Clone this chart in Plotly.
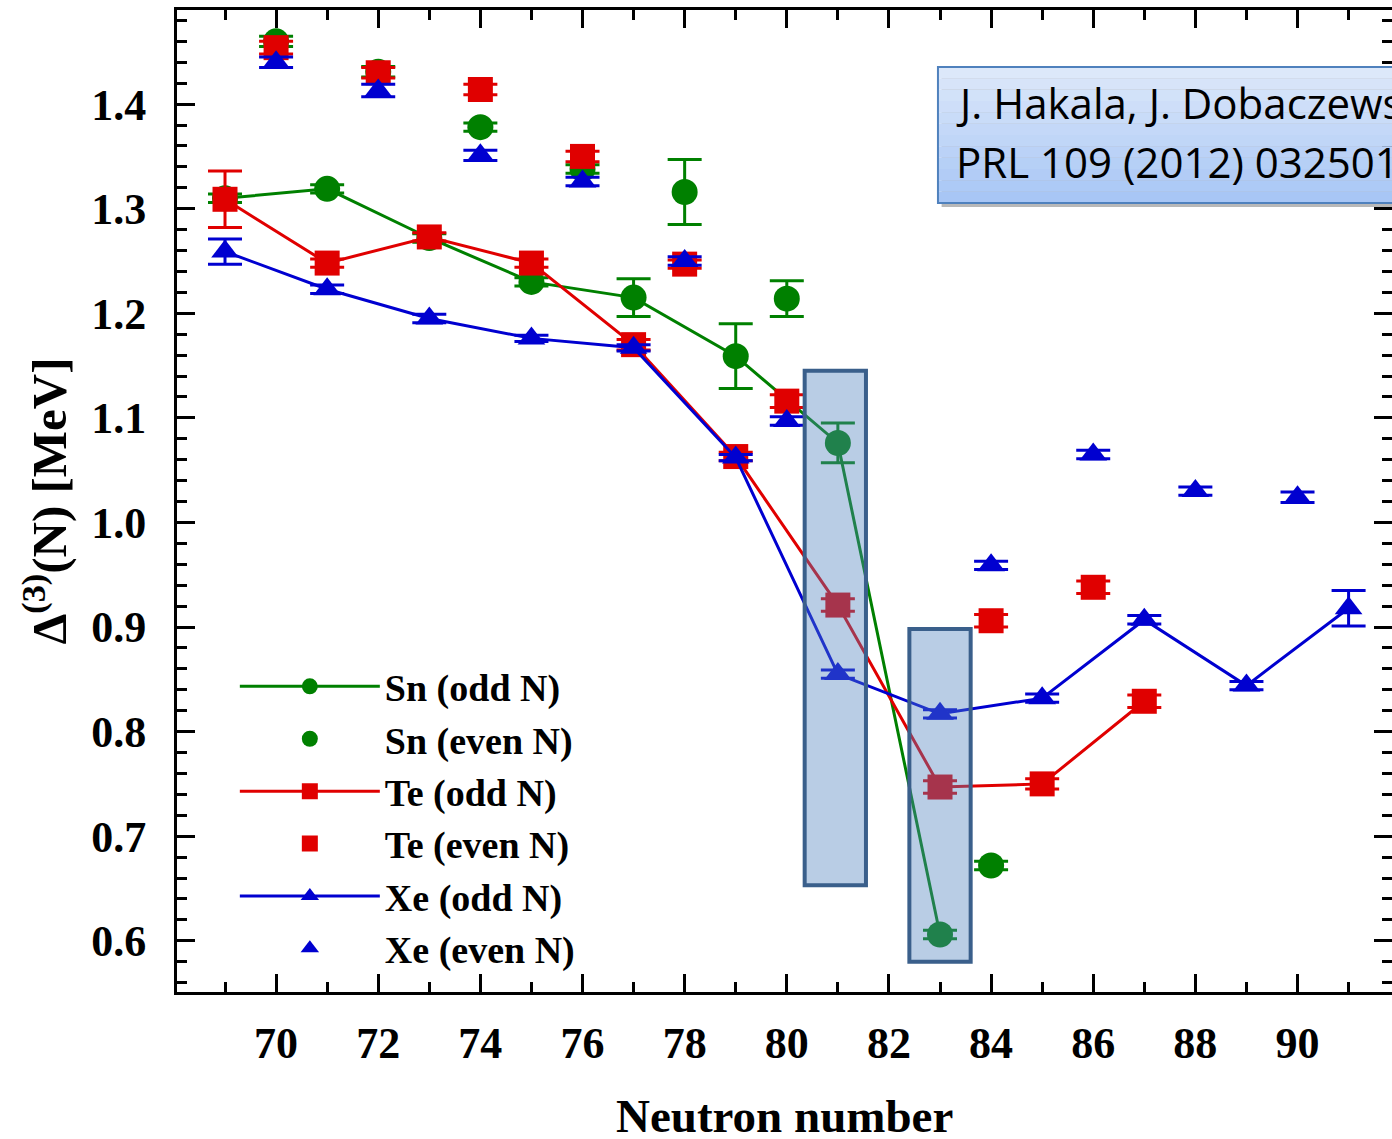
import plotly.graph_objects as go

# ---------------- data ----------------
sn_odd_N = [69, 71, 73, 75, 77, 79, 81, 83]
sn_odd_v = [1.310, 1.319, 1.272, 1.230, 1.215, 1.159, 1.076, 0.606]
sn_odd_e = [0.004, 0.004, 0.004, 0.004, 0.018, 0.031, 0.019, 0.004]

sn_even_N = [70, 72, 74, 76, 78, 80, 84]
sn_even_v = [1.460, 1.431, 1.378, 1.338, 1.316, 1.214, 0.672]
sn_even_e = [0.005, 0.005, 0.004, 0.004, 0.031, 0.017, 0.004]

te_odd_N = [69, 71, 73, 75, 77, 79, 81, 83, 85, 87]
te_odd_v = [1.309, 1.248, 1.273, 1.248, 1.170, 1.063, 0.921, 0.747, 0.750, 0.829]
te_odd_e = [0.027, 0.004, 0.004, 0.004, 0.005, 0.004, 0.006, 0.006, 0.005, 0.006]

te_even_N = [70, 72, 74, 76, 78, 80, 84, 86]
te_even_v = [1.454, 1.430, 1.414, 1.350, 1.247, 1.116, 0.906, 0.938]
te_even_e = [0.006, 0.005, 0.005, 0.005, 0.004, 0.006, 0.006, 0.006]

xe_odd_N = [69, 71, 73, 75, 77, 79, 81, 83, 85, 87, 89, 91]
xe_odd_v = [1.259, 1.223, 1.195, 1.176, 1.167, 1.062, 0.855, 0.817, 0.832, 0.907, 0.844, 0.918]
xe_odd_e = [0.012, 0.004, 0.004, 0.003, 0.003, 0.003, 0.004, 0.004, 0.004, 0.004, 0.004, 0.017]

xe_even_N = [70, 72, 74, 76, 78, 80, 84, 86, 88, 90]
xe_even_v = [1.440, 1.413, 1.351, 1.326, 1.250, 1.097, 0.959, 1.065, 1.030, 1.024]
xe_even_e = [0.005, 0.006, 0.005, 0.004, 0.004, 0.004, 0.004, 0.004, 0.004, 0.005]

# highlighted regions (N range, value range)
hl_x0 = [80.35, 82.40]
hl_x1 = [81.55, 83.60]
hl_y0 = [0.653, 0.580]
hl_y1 = [1.145, 0.898]

x_ticks = [70, 72, 74, 76, 78, 80, 82, 84, 86, 88, 90]
y_ticks = [0.6, 0.7, 0.8, 0.9, 1.0, 1.1, 1.2, 1.3, 1.4]

x_title = "Neutron number"
y_title = "Δ<sup>(3)</sup>(N) [MeV]"
ref_line1 = "J. Hakala, J. Dobaczewski et al.,"
ref_line2 = "PRL 109 (2012) 032501"

# ---------------- style ----------------
GREEN = "#008000"
RED = "#e00000"
BLUE = "#0000d0"
SERIF = "Liberation Serif, Times New Roman, serif"

fig = go.Figure()

def add(name, xs, ys, es, color, symbol, size, lines):
    fig.add_trace(go.Scatter(
        x=xs, y=ys, name=name,
        mode="lines+markers" if lines else "markers",
        line=dict(color=color, width=3),
        marker=dict(color=color, symbol=symbol, size=size),
        error_y=dict(type="data", array=es, visible=True, color=color,
                     thickness=3, width=17),
    ))

add("Sn (odd N)", sn_odd_N, sn_odd_v, sn_odd_e, GREEN, "circle", 26, True)
add("Sn (even N)", sn_even_N, sn_even_v, sn_even_e, GREEN, "circle", 26, False)
add("Te (odd N)", te_odd_N, te_odd_v, te_odd_e, RED, "square", 25, True)
add("Te (even N)", te_even_N, te_even_v, te_even_e, RED, "square", 25, False)
add("Xe (odd N)", xe_odd_N, xe_odd_v, xe_odd_e, BLUE, "triangle-up", 24, True)
add("Xe (even N)", xe_even_N, xe_even_v, xe_even_e, BLUE, "triangle-up", 24, False)

shapes = []
for x0, x1, y0, y1 in zip(hl_x0, hl_x1, hl_y0, hl_y1):
    shapes.append(dict(type="rect", xref="x", yref="y", x0=x0, x1=x1, y0=y0, y1=y1,
                       fillcolor="rgba(79,129,189,0.4)",
                       line=dict(color="#3a5f8b", width=4), layer="above"))

# reference box (paper coords) with shadow and vertical gradient
bx0, bx1, by0, by1 = 0.6263, 1.06, 0.8035, 0.942
shapes.append(dict(type="rect", xref="paper", yref="paper",
                   x0=bx0 + 0.003, x1=bx1 + 0.003, y0=by0 - 0.004, y1=by1 - 0.004,
                   fillcolor="rgba(0,0,0,0.28)", line=dict(width=0), layer="above"))
nb = 12
top = (222, 233, 250)
bot = (166, 197, 245)
for i in range(nb):
    t = (i + 0.5) / nb
    c = tuple(int(round(top[k] + (bot[k] - top[k]) * t)) for k in range(3))
    ya = by1 - (by1 - by0) * i / nb
    yb = by1 - (by1 - by0) * (i + 1) / nb
    shapes.append(dict(type="rect", xref="paper", yref="paper", x0=bx0, x1=bx1,
                       y0=yb, y1=ya, fillcolor="rgb(%d,%d,%d)" % c,
                       line=dict(width=0), layer="above"))
shapes.append(dict(type="rect", xref="paper", yref="paper", x0=bx0, x1=bx1,
                   y0=by0, y1=by1, fillcolor="rgba(0,0,0,0)",
                   line=dict(color="#4f81bd", width=2), layer="above"))

annotations = [
    dict(xref="paper", yref="paper", x=0.6395, y=0.9053, xanchor="left", yanchor="middle",
         text=ref_line1, showarrow=False, font=dict(family="Open Sans", size=42, color="black")),
    dict(xref="paper", yref="paper", x=0.6395, y=0.8462, xanchor="left", yanchor="middle",
         text=ref_line2, showarrow=False, font=dict(family="Open Sans", size=42, color="black")),
    dict(xref="paper", yref="paper", x=0.5, y=-0.126, xanchor="center", yanchor="middle",
         text=x_title, showarrow=False,
         font=dict(family=SERIF, size=47, color="black", weight="bold")),
]

axis_common = dict(showline=True, linecolor="black", linewidth=3, mirror="allticks",
                   ticks="inside", tickcolor="black", tickwidth=3, ticklen=18,
                   showgrid=False, zeroline=False, automargin=False,
                   tickfont=dict(family=SERIF, size=44, color="black", weight="bold"))

fig.update_layout(
    width=1392, height=1139,
    margin=dict(l=177, r=0, t=10, b=147),
    paper_bgcolor="white", plot_bgcolor="white",
    shapes=shapes, annotations=annotations,
    showlegend=True,
    legend=dict(x=0.0476, y=0.343, xanchor="left", yanchor="top",
                bgcolor="rgba(0,0,0,0)", itemwidth=140,
                font=dict(family=SERIF, size=38, color="black", weight="bold"),
                tracegroupgap=0),
    xaxis=dict(range=[68.06, 91.85], tickmode="array", tickvals=x_ticks,
               minor=dict(dtick=1, tick0=69, ticks="inside", ticklen=10, tickwidth=3, tickcolor="black"),
               ticklabelstandoff=10,
               **axis_common),
    yaxis=dict(range=[0.551, 1.490], tickmode="array", tickvals=y_ticks,
               ticktext=[f"{v:.1f}" for v in y_ticks],
               minor=dict(dtick=0.02, tick0=0.0, ticks="inside", ticklen=10, tickwidth=3, tickcolor="black"),
               ticklabelstandoff=19,
               title=dict(text=y_title,
                          font=dict(family=SERIF, size=49, color="black", weight="bold"),
                          standoff=10),
               **axis_common),
)

fig.write_html("out.html", config={"displayModeBar": False},
               post_script="document.body.style.margin='0';document.body.style.overflow='hidden';")
